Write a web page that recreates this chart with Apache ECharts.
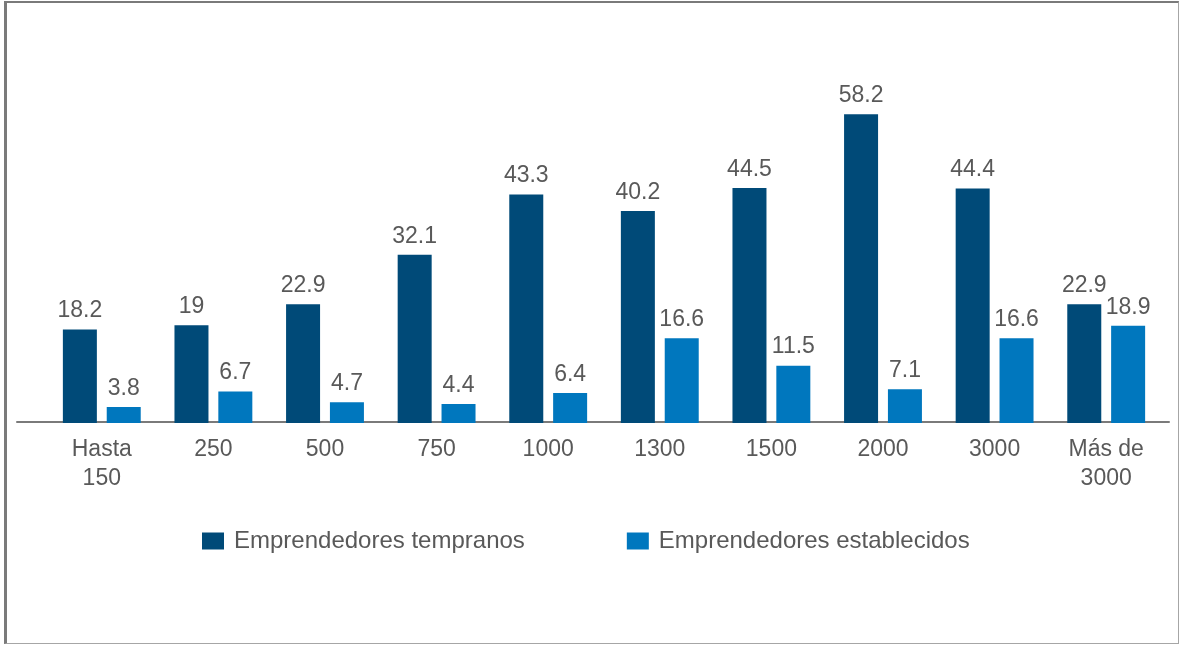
<!DOCTYPE html>
<html>
<head>
<meta charset="utf-8">
<script src="https://cdn.jsdelivr.net/npm/echarts@6/dist/echarts.min.js"></script>
<style>
html,body{margin:0;padding:0;background:#fff;}
#chart{position:absolute;left:0;top:0;width:1180px;height:645px;}
#frame{position:absolute;left:4px;top:1px;width:1171px;height:640px;border-left:3px solid #7a7a7a;border-top:2px solid #7a7a7a;border-right:1px solid #a6a6a6;border-bottom:1px solid #a6a6a6;pointer-events:none;}
</style>
</head>
<body>
<div id="chart"></div>
<div id="frame"></div>
<script>
const categories = ['Hasta\n150', '250', '500', '750', '1000', '1300', '1500', '2000', '3000', 'Más de\n3000'];
const tempranos = [18.2, 19, 22.9, 32.1, 43.3, 40.2, 44.5, 58.2, 44.4, 22.9];
const establecidos = [3.8, 6.7, 4.7, 4.4, 6.4, 16.6, 11.5, 7.1, 16.6, 18.9];
const seriesNames = ['Emprendedores tempranos', 'Emprendedores establecidos'];

const FONT = '"Liberation Sans", Arial, sans-serif';
const GRAY = '#595959';

const chart = echarts.init(document.getElementById('chart'), null, {renderer: 'canvas'});
const labelCfg = {
  show: true, position: 'top', distance: 7,
  color: GRAY, fontSize: 23, fontFamily: FONT
};
chart.setOption({
  animation: false,
  legend: {
    left: 202, top: 529, padding: 0,
    itemWidth: 22, itemHeight: 17, itemGap: 102,
    icon: 'rect',
    textStyle: {color: GRAY, fontSize: 24, fontFamily: FONT, padding: [0, 0, 0, 5]},
    data: seriesNames
  },
  grid: [
    {left: 46, right: 18, top: 50.6, bottom: 222},
    {left: 17, right: 11, top: 50.6, bottom: 223}
  ],
  xAxis: [
    {
      type: 'category', gridIndex: 0, data: categories,
      axisLine: {show: false},
      axisTick: {show: false},
      axisLabel: {color: GRAY, fontSize: 23, fontFamily: FONT, lineHeight: 29, margin: 12, interval: 0}
    },
    {
      type: 'category', gridIndex: 1, data: [''],
      axisLine: {show: true, lineStyle: {color: '#7a7a7a', width: 2}},
      axisTick: {show: false},
      axisLabel: {show: false}
    }
  ],
  yAxis: [
    {type: 'value', gridIndex: 0, min: 0.85, max: 70, show: false, splitLine: {show: false}},
    {type: 'value', gridIndex: 1, min: 0, max: 70, show: false, splitLine: {show: false}}
  ],
  series: [
    {
      name: seriesNames[0], type: 'bar', xAxisIndex: 0, yAxisIndex: 0,
      data: tempranos, barWidth: 34, barGap: '29%',
      itemStyle: {color: '#004A78'},
      label: labelCfg
    },
    {
      name: seriesNames[1], type: 'bar', xAxisIndex: 0, yAxisIndex: 0,
      data: establecidos, barWidth: 34, barGap: '29%',
      itemStyle: {color: '#0077BE'},
      label: labelCfg
    }
  ]
});
</script>
</body>
</html>
